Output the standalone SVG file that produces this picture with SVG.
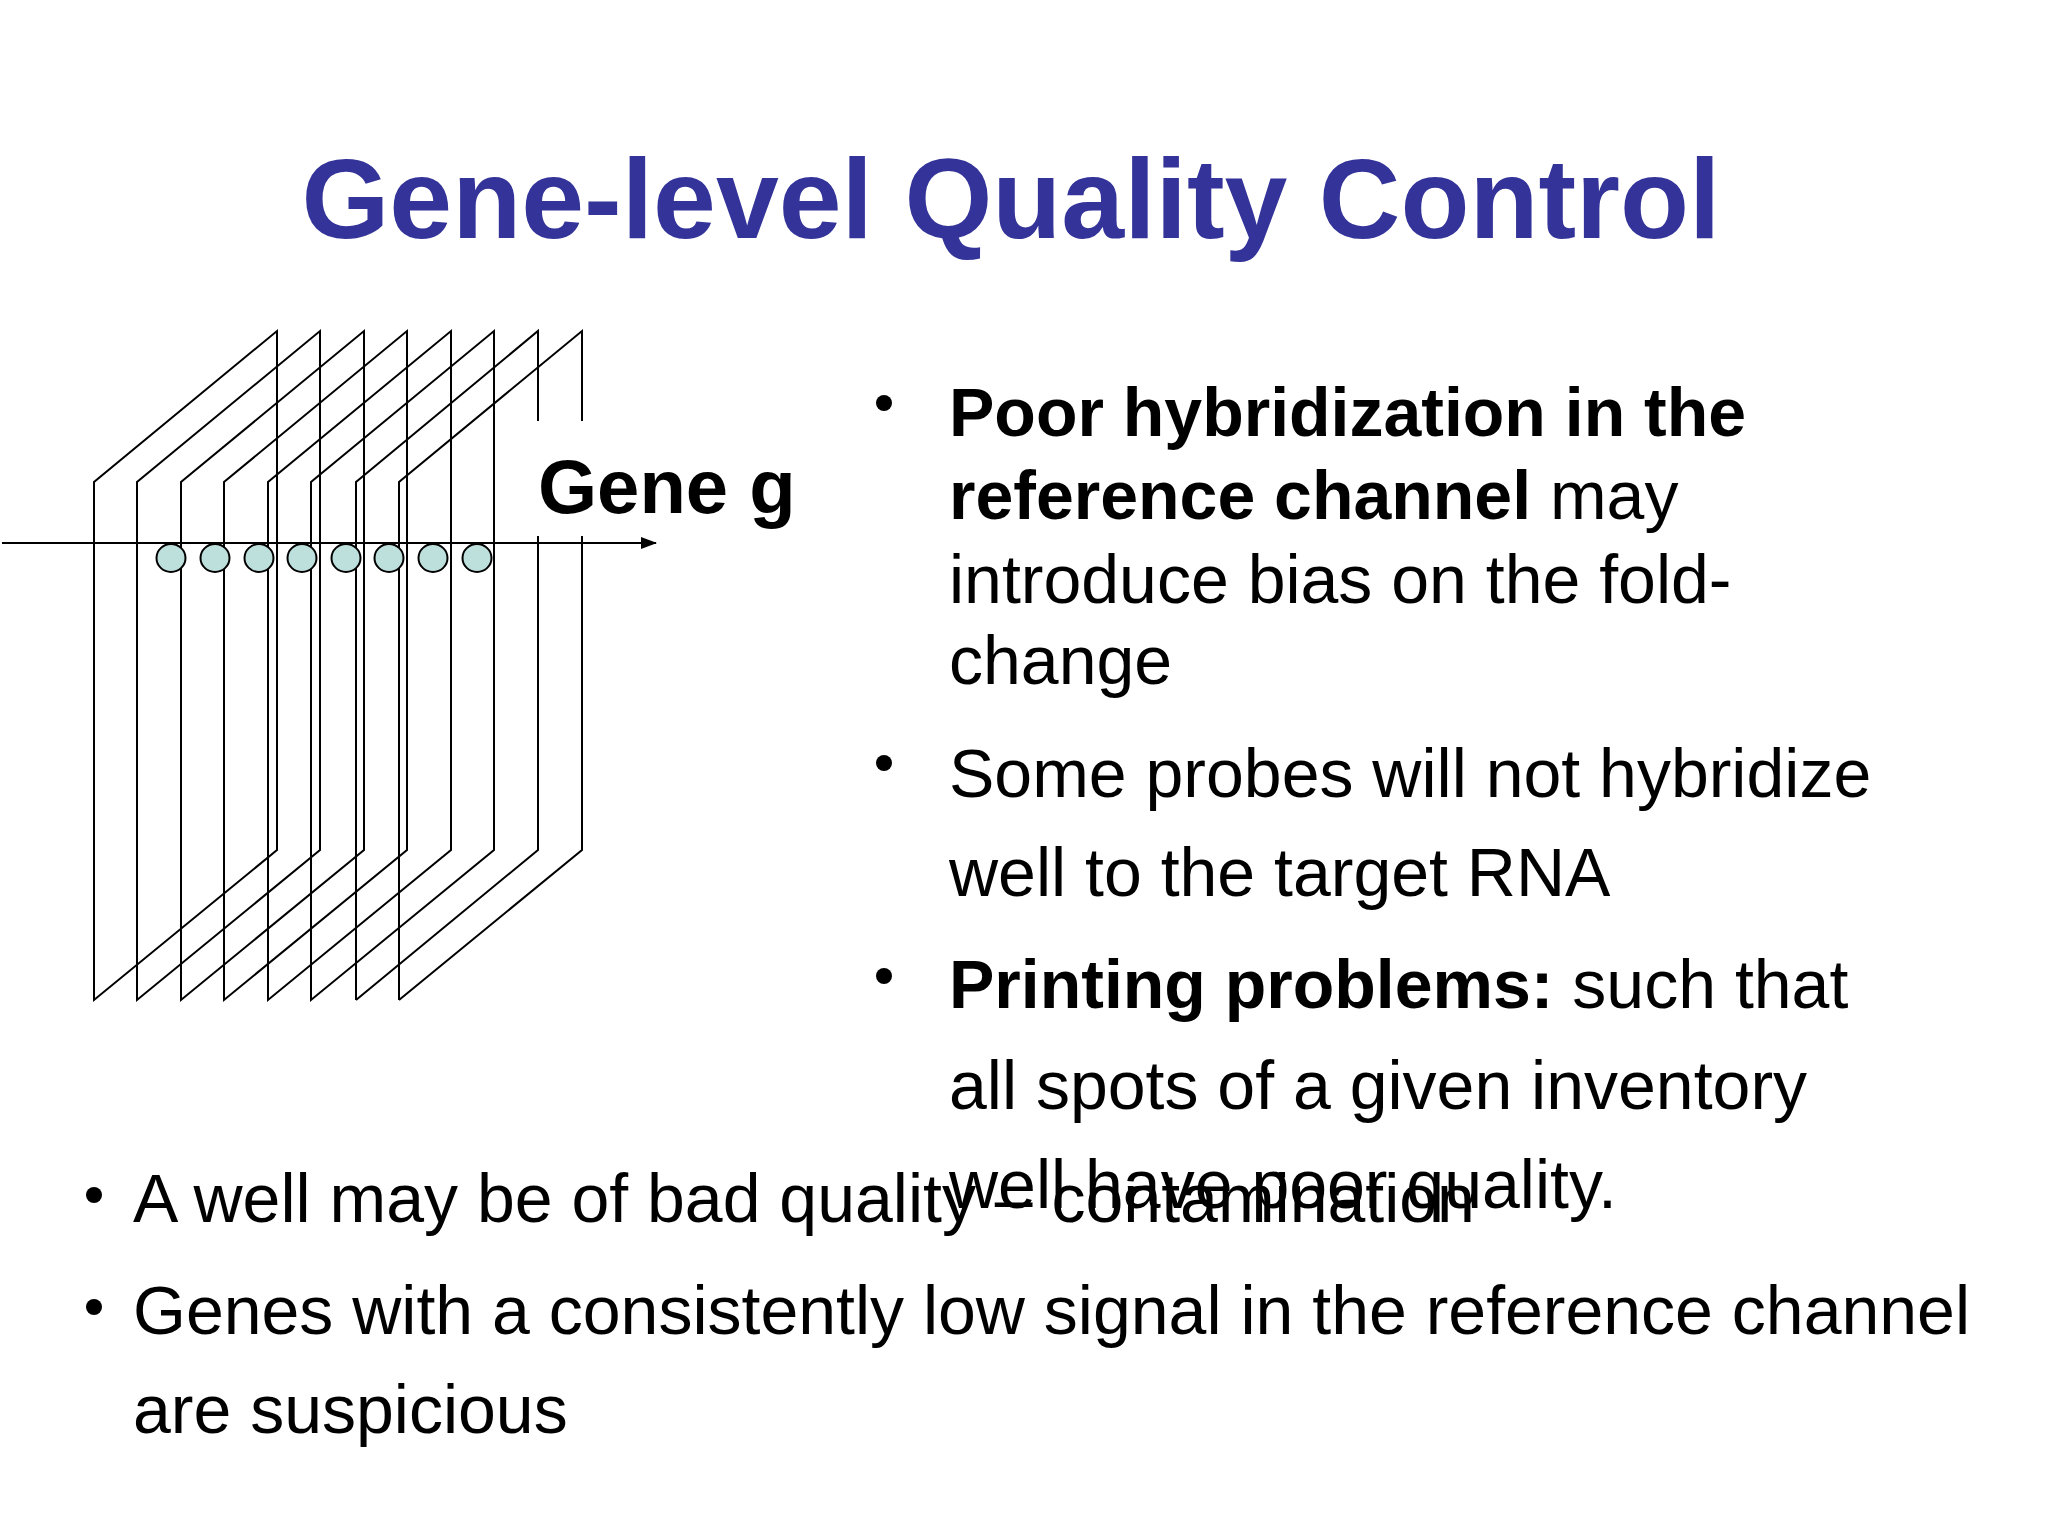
<svg xmlns="http://www.w3.org/2000/svg" width="2048" height="1536" viewBox="0 0 2048 1536">
<defs>
<style>
.t{font-family:"Liberation Sans",Arial,sans-serif;font-size:68px;fill:#000}
.b{font-weight:bold}
.pl{fill:none;stroke:#000;stroke-width:2}
.sp{fill:#bde0dd;stroke:#000;stroke-width:2}
</style>
<marker id="ar" markerWidth="16" markerHeight="12" refX="15" refY="6" orient="auto" markerUnits="userSpaceOnUse" viewBox="0 0 16 12"><path d="M0,0 L16,6 L0,12 z" fill="#000"/></marker>
</defs>
<rect width="2048" height="1536" fill="#fff"/>
<text x="1011" y="238" text-anchor="middle" font-family="Liberation Sans,Arial,sans-serif" font-weight="bold" font-size="113" fill="#333399">Gene-level Quality Control</text>
<g id="planes">
<path class="pl" d="M94,1000 V482 L277,331 V850 Z"/>
<path class="pl" d="M137,1000 V482 L320,331 V850 Z"/>
<path class="pl" d="M181,1000 V482 L364,331 V850 Z"/>
<path class="pl" d="M224,1000 V482 L407,331 V850 Z"/>
<path class="pl" d="M268,1000 V482 L451,331 V850 Z"/>
<path class="pl" d="M311,1000 V482 L494,331 V850 Z"/>
<path class="pl" d="M356,1000 V482 L538,331 V421 M538,536 V850 L356,1000"/>
<path class="pl" d="M399,1000 V482 L582,331 V421 M582,536 V850 L399,1000"/>
</g>
<g id="spots">
<ellipse class="sp" cx="171" cy="558" rx="14.5" ry="14"/>
<ellipse class="sp" cx="215" cy="558" rx="14.5" ry="14"/>
<ellipse class="sp" cx="259" cy="558" rx="14.5" ry="14"/>
<ellipse class="sp" cx="302" cy="558" rx="14.5" ry="14"/>
<ellipse class="sp" cx="346" cy="558" rx="14.5" ry="14"/>
<ellipse class="sp" cx="389" cy="558" rx="14.5" ry="14"/>
<ellipse class="sp" cx="433" cy="558" rx="14.5" ry="14"/>
<ellipse class="sp" cx="477" cy="558" rx="14.5" ry="14"/>
</g>
<g id="connectors"><line x1="2" y1="543" x2="656" y2="543" stroke="#000" stroke-width="2" marker-end="url(#ar)"/></g>
<g id="label"><text class="t b" x="538" y="513" style="font-size:76px">Gene g</text></g>
<g id="bullets">
<circle cx="884" cy="403" r="8"/>
<circle cx="884" cy="763" r="8"/>
<circle cx="884" cy="976" r="8"/>
<circle cx="94" cy="1195" r="8"/>
<circle cx="94" cy="1307" r="8"/>
<text class="t" x="949" y="436"><tspan class="b">Poor hybridization in the</tspan></text>
<text class="t" x="949" y="519"><tspan class="b">reference channel</tspan> may</text>
<text class="t" x="949" y="603">introduce bias on the fold-</text>
<text class="t" x="949" y="684">change</text>
<text class="t" x="949" y="797">Some probes will not hybridize</text>
<text class="t" x="949" y="896">well to the target RNA</text>
<text class="t" x="949" y="1008"><tspan class="b">Printing problems:</tspan> such that</text>
<text class="t" x="949" y="1109">all spots of a given inventory</text>
<text class="t" x="949" y="1208">well have poor quality.</text>
<text class="t" x="133" y="1222">A well may be of bad quality – contamination</text>
<text class="t" x="133" y="1334">Genes with a consistently low signal in the reference channel</text>
<text class="t" x="133" y="1433">are suspicious</text>
</g>
</svg>
